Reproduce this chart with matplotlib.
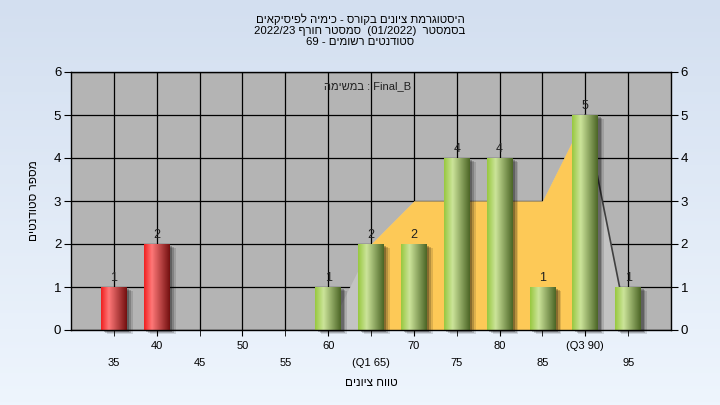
import re
import numpy as np
import matplotlib
matplotlib.use('Agg')
import matplotlib.pyplot as plt
from matplotlib.colors import to_rgb

# data
grades = [35, 40, 45, 50, 55, 60, 65, 70, 75, 80, 85, 90, 95]
counts = [1, 2, 0, 0, 0, 1, 2, 2, 4, 4, 1, 5, 1]
tick_text = ['35', '40', '45', '50', '55', '60', '(Q1 65)', '70', '75', '80',
             '85', '(Q3 90)', '95']
pass_grade = 60
area_x = [60, 65, 70, 75, 80, 85, 90, 95]
area_y = [0, 2, 3, 3, 3, 3, 5, 0]
q1, q3 = 65, 90

title_lines = ['היסטוגרמת ציונים בקורס - כימיה לפיסיקאים',
               'בסמסטר  (01/2022)  סמסטר חורף 2022/23',
               'סטודנטים רשומים - 69']
legend_text = 'Final_B : במשימה'
xlabel = 'טווח ציונים'
ylabel = 'מספר סטודנטים'

plt.rcParams['font.family'] = ['Liberation Sans', 'DejaVu Sans']


def visual(s):
    # matplotlib has no bidi: lay out an RTL line by hand
    tokens = re.findall(r'[A-Za-z0-9_]+(?:[/.][A-Za-z0-9_]+)*|.', s)
    mirror = {'(': ')', ')': '('}
    return ''.join(mirror.get(t, t) for t in reversed(tokens))


def strip(stops, n=64):
    pos = [p for p, _ in stops]
    cols = np.array([to_rgb(c) for _, c in stops])
    t = np.linspace(0, 1, n)
    return np.stack([np.interp(t, pos, cols[:, k]) for k in range(3)], axis=-1)[None, :, :]


red_grad = strip([(0, '#f02020'), (0.3, '#ff7878'), (1, '#741010')])
green_grad = strip([(0, '#98c840'), (0.33, '#cce49a'), (1, '#4c6626')])

fig = plt.figure(figsize=(7.2, 4.05), dpi=100)

# background gradient
bg = fig.add_axes([0, 0, 1, 1], zorder=-10)
bg.imshow(strip([(0, '#d3dff0'), (1, '#eef5fd')], 128).transpose(1, 0, 2),
          aspect='auto', extent=[0, 1, 0, 1])
bg.axis('off')

ax = fig.add_axes([71 / 720, 75 / 405, 600 / 720, 258 / 405])
ax.set_facecolor('#b4b4b4')
ax.set_xlim(30, 100)
ax.set_ylim(0, 6)
ax.set_axisbelow(True)

# area behind the bars
ax.fill_between(area_x, area_y, color='#c3c3c3', lw=0, zorder=1)
ax_in = [x for x in area_x if q1 <= x <= q3]
ay_in = [y for x, y in zip(area_x, area_y) if q1 <= x <= q3]
ax.fill_between(ax_in, ay_in, color='#fdc957', lw=0, zorder=1.1)
ax.plot(area_x[-2:], area_y[-2:], color='#404040', lw=1.2, zorder=1.2)

# shadows
for dx, dy, a in [(0.7, -0.1, 0.12), (0.5, -0.07, 0.18), (0.3, -0.04, 0.25)]:
    ax.bar([g + dx for g in grades], counts, width=3.0, bottom=dy,
           color='black', alpha=a, lw=0, zorder=1.5, clip_on=False)

bars = ax.bar(grades, counts, width=3.0, color='none', lw=0, zorder=2)
for g, c, b in zip(grades, counts, bars):
    if c == 0:
        continue
    grad = red_grad if g < pass_grade else green_grad
    x0, w = b.get_x(), b.get_width()
    im = ax.imshow(grad, aspect='auto', extent=[x0, x0 + w, 0, c],
                   zorder=2, interpolation='bilinear')
    im.set_clip_path(b)
    ax.text(g, c + 0.08, str(c), ha='center', va='bottom', fontsize=9,
            color='#202020', zorder=3)
ax.set_xlim(30, 100)
ax.set_ylim(0, 6)

# axes, ticks, grid
ax.set_xticks(grades[1::2])
ax.set_xticklabels(tick_text[1::2])
ax.set_xticks(grades[0::2], minor=True)
ax.set_xticklabels(tick_text[0::2], minor=True)
ax.tick_params(axis='x', which='major', length=4, pad=4, labelsize=8)
ax.tick_params(axis='x', which='minor', length=4, pad=16.5, labelsize=8)
ax.set_yticks(range(7))
ax.tick_params(axis='y', left=True, right=True, labelleft=True,
               labelright=True, length=5, labelsize=9.5, pad=2)
ax.grid(True, which='both', color='black', lw=0.9)
for s in ax.spines.values():
    s.set_color('black')
    s.set_linewidth(1)

ax.text(0.495, 0.946, visual(legend_text), transform=ax.transAxes,
        ha='center', va='center', fontsize=8, color='#202020', zorder=4)

ax.set_xlabel(visual(xlabel), fontsize=8.5, labelpad=6)
ax.set_ylabel(visual(ylabel), fontsize=8.5, labelpad=10)

fig.text(0.5, 1 - 30 / 405, '\n'.join(visual(t) for t in title_lines),
         ha='center', va='center', fontsize=8.2, linespacing=1.1)

fig.savefig('out.png', dpi=100)
